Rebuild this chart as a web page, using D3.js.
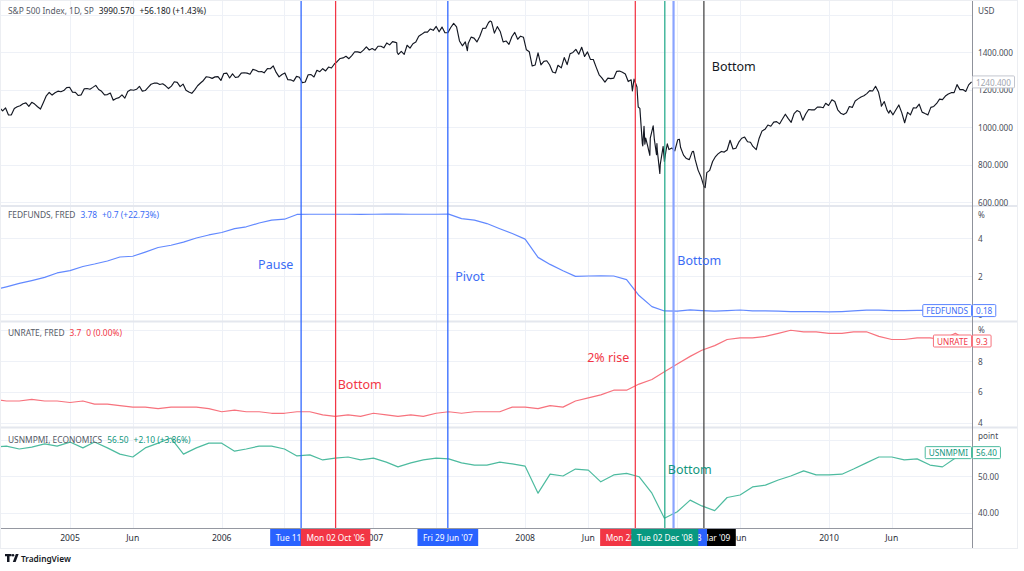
<!DOCTYPE html>
<html><head><meta charset="utf-8">
<script src="https://cdn.jsdelivr.net/npm/d3@7"></script>
<style>
body{margin:0;background:#fff}
svg{display:block}
text{font-family:"Noto Sans","Open Sans",sans-serif}
</style>
</head><body><svg id="c" width="1024" height="571"></svg>
<script>
// ---------------- DATA ----------------
const spx = [
["2004-07-16",1101.39],["2004-07-23",1086.20],["2004-07-30",1101.72],["2004-08-06",1063.97],["2004-08-13",1064.80],["2004-08-20",1098.35],["2004-08-27",1107.77],
["2004-09-03",1113.63],["2004-09-10",1123.92],["2004-09-17",1128.55],["2004-09-24",1110.11],["2004-10-01",1131.50],["2004-10-08",1122.14],["2004-10-15",1108.20],
["2004-10-22",1095.74],["2004-10-29",1130.20],["2004-11-05",1166.17],["2004-11-12",1184.17],["2004-11-19",1170.34],["2004-11-26",1182.65],["2004-12-03",1191.17],
["2004-12-10",1188.00],["2004-12-17",1194.20],["2004-12-24",1210.13],["2004-12-31",1211.92],
["2005-01-07",1186.19],["2005-01-14",1184.52],["2005-01-21",1167.87],["2005-01-28",1171.36],["2005-02-04",1203.03],["2005-02-11",1205.30],["2005-02-18",1201.59],
["2005-02-25",1211.37],["2005-03-04",1222.12],["2005-03-11",1200.08],["2005-03-18",1190.21],["2005-03-25",1171.42],["2005-04-01",1172.92],["2005-04-08",1181.20],
["2005-04-15",1142.62],["2005-04-22",1152.12],["2005-04-29",1156.85],["2005-05-06",1171.35],["2005-05-13",1154.05],["2005-05-20",1189.28],["2005-05-27",1198.78],
["2005-06-03",1196.02],["2005-06-10",1200.93],["2005-06-17",1216.96],["2005-06-24",1191.57],["2005-07-01",1194.44],["2005-07-08",1211.86],["2005-07-15",1227.92],
["2005-07-22",1233.68],["2005-07-29",1234.18],["2005-08-05",1226.42],["2005-08-12",1230.39],["2005-08-19",1219.71],["2005-08-26",1205.10],["2005-09-02",1218.02],
["2005-09-09",1241.48],["2005-09-16",1237.91],["2005-09-23",1215.29],["2005-09-30",1228.81],["2005-10-07",1195.90],["2005-10-14",1186.57],["2005-10-21",1179.59],
["2005-10-28",1198.41],["2005-11-04",1220.14],["2005-11-11",1234.72],["2005-11-18",1248.27],["2005-11-25",1268.25],["2005-12-02",1265.08],["2005-12-09",1259.37],
["2005-12-16",1267.32],["2005-12-23",1268.66],["2005-12-30",1248.29],
["2006-01-06",1285.45],["2006-01-13",1287.61],["2006-01-20",1261.49],["2006-01-27",1283.72],["2006-02-03",1264.03],["2006-02-10",1266.99],["2006-02-17",1287.24],
["2006-02-24",1289.43],["2006-03-03",1287.23],["2006-03-10",1281.42],["2006-03-17",1307.25],["2006-03-24",1302.95],["2006-03-31",1294.83],["2006-04-07",1295.50],
["2006-04-13",1289.12],["2006-04-21",1311.28],["2006-04-28",1310.61],["2006-05-05",1325.76],["2006-05-12",1291.24],["2006-05-19",1267.03],["2006-05-26",1280.16],
["2006-06-02",1288.22],["2006-06-09",1252.30],["2006-06-16",1251.54],["2006-06-23",1244.50],["2006-06-30",1270.20],["2006-07-07",1265.48],["2006-07-14",1236.20],
["2006-07-21",1240.29],["2006-07-28",1278.55],["2006-08-04",1279.36],["2006-08-11",1266.74],["2006-08-18",1302.30],["2006-08-25",1295.09],["2006-09-01",1311.01],
["2006-09-08",1298.92],["2006-09-15",1319.66],["2006-09-22",1314.78],["2006-09-29",1335.85],["2006-10-06",1349.59],["2006-10-13",1365.62],["2006-10-20",1368.60],
["2006-10-27",1377.34],["2006-11-03",1364.30],["2006-11-10",1380.90],["2006-11-17",1401.20],["2006-11-24",1400.95],["2006-12-01",1396.71],["2006-12-08",1409.84],
["2006-12-15",1427.09],["2006-12-22",1410.76],["2006-12-29",1418.30],
["2007-01-05",1409.71],["2007-01-12",1430.73],["2007-01-19",1430.50],["2007-01-26",1422.18],["2007-02-02",1448.39],["2007-02-09",1438.06],["2007-02-16",1455.54],
["2007-02-23",1451.19],["2007-02-26",1449.37],["2007-02-27",1399.04],["2007-03-02",1387.17],["2007-03-09",1402.84],["2007-03-16",1386.95],["2007-03-23",1436.11],
["2007-03-30",1420.86],["2007-04-06",1443.76],["2007-04-13",1452.85],["2007-04-20",1484.35],["2007-04-27",1494.07],["2007-05-04",1505.62],["2007-05-11",1505.85],
["2007-05-18",1522.75],["2007-05-25",1515.73],["2007-06-01",1536.34],["2007-06-08",1507.67],["2007-06-15",1532.91],["2007-06-22",1502.56],["2007-06-29",1503.35],
["2007-07-06",1530.44],["2007-07-13",1552.50],["2007-07-20",1534.10],["2007-07-27",1458.95],["2007-08-03",1433.06],["2007-08-10",1453.64],["2007-08-15",1406.70],
["2007-08-17",1445.94],["2007-08-24",1479.37],["2007-08-31",1473.99],["2007-09-07",1453.55],["2007-09-14",1484.25],["2007-09-21",1525.75],["2007-09-28",1526.75],
["2007-10-05",1557.59],["2007-10-09",1565.15],["2007-10-12",1561.80],["2007-10-19",1500.63],["2007-10-26",1535.28],["2007-11-02",1509.65],["2007-11-09",1453.70],
["2007-11-16",1458.74],["2007-11-23",1440.70],["2007-11-30",1481.14],["2007-12-07",1504.66],["2007-12-14",1467.95],["2007-12-21",1484.46],["2007-12-28",1478.49],
["2008-01-04",1411.63],["2008-01-11",1401.02],["2008-01-18",1325.19],["2008-01-25",1330.61],["2008-02-01",1395.42],["2008-02-08",1331.29],["2008-02-15",1349.99],
["2008-02-22",1353.11],["2008-02-29",1330.63],["2008-03-07",1293.37],["2008-03-14",1288.14],["2008-03-20",1329.51],["2008-03-28",1315.22],["2008-04-04",1370.40],
["2008-04-11",1332.83],["2008-04-18",1390.33],["2008-04-25",1397.84],["2008-05-02",1413.90],["2008-05-09",1388.28],["2008-05-16",1425.35],["2008-05-23",1375.93],
["2008-05-30",1400.38],["2008-06-06",1360.68],["2008-06-13",1360.03],["2008-06-20",1317.93],["2008-06-27",1278.38],["2008-07-03",1262.90],["2008-07-11",1239.49],
["2008-07-18",1260.68],["2008-07-25",1257.76],["2008-08-01",1260.31],["2008-08-08",1296.32],["2008-08-15",1298.20],["2008-08-22",1292.20],["2008-08-29",1282.83],
["2008-09-05",1242.31],["2008-09-12",1251.70],["2008-09-15",1192.70],["2008-09-19",1255.08],["2008-09-26",1213.27],["2008-09-29",1106.39],["2008-10-03",1099.23],
["2008-10-09",909.92],["2008-10-10",899.22],["2008-10-13",1003.35],["2008-10-15",907.84],["2008-10-17",940.55],["2008-10-22",896.78],["2008-10-24",876.77],
["2008-10-27",848.92],["2008-10-28",940.51],["2008-10-31",968.75],["2008-11-04",1005.75],["2008-11-07",930.99],["2008-11-12",852.30],["2008-11-13",911.29],
["2008-11-14",873.29],["2008-11-20",752.44],["2008-11-21",800.03],["2008-11-28",896.24],["2008-12-01",816.21],["2008-12-05",876.07],["2008-12-08",909.70],
["2008-12-12",879.73],["2008-12-19",887.88],["2008-12-26",872.80],
["2009-01-02",931.80],["2009-01-06",934.70],["2009-01-09",890.35],["2009-01-16",850.12],["2009-01-23",831.95],["2009-01-30",825.88],["2009-02-06",868.60],
["2009-02-09",869.89],["2009-02-13",826.84],["2009-02-20",770.05],["2009-02-27",735.09],["2009-03-06",683.38],["2009-03-09",676.53],["2009-03-13",756.55],
["2009-03-20",768.54],["2009-03-27",815.94],["2009-04-03",842.50],["2009-04-09",856.56],["2009-04-17",869.60],["2009-04-24",866.23],["2009-05-01",877.52],
["2009-05-08",929.23],["2009-05-15",882.88],["2009-05-22",887.00],["2009-05-29",919.14],["2009-06-05",940.09],["2009-06-12",946.21],["2009-06-19",921.23],
["2009-06-26",918.90],["2009-07-02",896.42],["2009-07-10",879.13],["2009-07-17",940.38],["2009-07-24",979.26],["2009-07-31",987.48],["2009-08-07",1010.48],
["2009-08-14",1004.09],["2009-08-21",1026.13],["2009-08-28",1028.93],["2009-09-04",1016.40],["2009-09-11",1042.73],["2009-09-18",1068.30],["2009-09-25",1044.38],
["2009-10-02",1025.21],["2009-10-09",1071.49],["2009-10-16",1087.68],["2009-10-23",1079.60],["2009-10-30",1036.19],["2009-11-06",1069.30],["2009-11-13",1093.48],
["2009-11-20",1091.38],["2009-11-27",1091.49],["2009-12-04",1105.98],["2009-12-11",1106.41],["2009-12-18",1102.47],["2009-12-24",1126.48],["2009-12-31",1115.10],
["2010-01-08",1144.98],["2010-01-15",1136.03],["2010-01-22",1091.76],["2010-01-29",1073.87],["2010-02-05",1066.19],["2010-02-12",1075.51],["2010-02-19",1109.17],
["2010-02-26",1104.49],["2010-03-05",1138.70],["2010-03-12",1149.99],["2010-03-19",1159.90],["2010-03-26",1166.59],["2010-04-02",1178.10],["2010-04-09",1194.37],
["2010-04-16",1192.13],["2010-04-23",1217.28],["2010-04-30",1186.69],["2010-05-06",1128.15],["2010-05-07",1110.88],["2010-05-14",1135.68],["2010-05-21",1087.69],
["2010-05-25",1074.03],["2010-05-28",1089.41],["2010-06-04",1064.88],["2010-06-11",1091.60],["2010-06-18",1117.51],["2010-06-25",1076.76],["2010-07-02",1022.58],
["2010-07-09",1077.96],["2010-07-16",1064.88],["2010-07-23",1102.66],["2010-07-30",1101.60],["2010-08-06",1121.64],["2010-08-13",1079.25],["2010-08-20",1071.69],
["2010-08-27",1064.59],["2010-09-03",1104.51],["2010-09-10",1109.55],["2010-09-17",1125.59],["2010-09-24",1148.67],["2010-10-01",1146.24],["2010-10-08",1165.15],
["2010-10-15",1176.19],["2010-10-22",1183.08],["2010-10-29",1183.26],["2010-11-05",1225.85],["2010-11-12",1199.21],["2010-11-19",1199.73],["2010-11-26",1189.40],
["2010-12-03",1224.71],["2010-12-10",1240.40]
];

const months = [
"2004-07","2004-08","2004-09","2004-10","2004-11","2004-12",
"2005-01","2005-02","2005-03","2005-04","2005-05","2005-06","2005-07","2005-08","2005-09","2005-10","2005-11","2005-12",
"2006-01","2006-02","2006-03","2006-04","2006-05","2006-06","2006-07","2006-08","2006-09","2006-10","2006-11","2006-12",
"2007-01","2007-02","2007-03","2007-04","2007-05","2007-06","2007-07","2007-08","2007-09","2007-10","2007-11","2007-12",
"2008-01","2008-02","2008-03","2008-04","2008-05","2008-06","2008-07","2008-08","2008-09","2008-10","2008-11","2008-12",
"2009-01","2009-02","2009-03","2009-04","2009-05","2009-06","2009-07","2009-08","2009-09","2009-10","2009-11","2009-12",
"2010-01","2010-02","2010-03","2010-04","2010-05","2010-06","2010-07","2010-08","2010-09","2010-10","2010-11","2010-12"
];
const fedfunds = [
1.26,1.43,1.61,1.76,1.93,2.16,
2.28,2.50,2.63,2.79,3.00,3.04,3.26,3.50,3.62,3.78,4.00,4.16,
4.29,4.49,4.59,4.79,4.94,4.99,5.24,5.25,5.25,5.25,5.25,5.24,
5.25,5.26,5.26,5.25,5.25,5.25,5.26,5.02,4.94,4.76,4.49,4.24,
3.94,2.98,2.61,2.28,1.98,2.00,2.01,2.00,1.81,0.97,0.39,0.16,
0.15,0.22,0.18,0.15,0.18,0.21,0.16,0.16,0.15,0.12,0.12,0.12,
0.11,0.13,0.16,0.20,0.20,0.18,0.18,0.19,0.19,0.19,0.19,0.18
];
const unrate = [
5.5,5.4,5.4,5.5,5.4,5.4,
5.3,5.4,5.2,5.2,5.1,5.0,5.0,4.9,5.0,5.0,5.0,4.9,
4.7,4.8,4.7,4.7,4.6,4.6,4.7,4.7,4.5,4.4,4.5,4.4,
4.6,4.5,4.4,4.5,4.4,4.6,4.7,4.6,4.7,4.7,4.7,5.0,
5.0,4.9,5.1,5.0,5.4,5.6,5.8,6.1,6.1,6.5,6.8,7.3,
7.8,8.3,8.7,9.0,9.4,9.5,9.5,9.6,9.8,10.0,9.9,9.9,
9.8,9.8,9.9,9.9,9.6,9.4,9.4,9.5,9.5,9.4,9.8,9.3
];
const pmi = [
57.9,58.2,57.4,57.9,58.8,58.2,
59.3,57.7,59.3,57.7,56.0,55.2,57.7,59.0,60.4,56.0,57.7,59.0,
59.0,56.8,57.4,58.2,58.2,57.4,55.5,55.8,54.4,54.9,55.2,54.4,
54.9,53.8,52.5,53.6,54.4,54.9,54.7,53.6,53.0,53.0,53.8,53.3,
52.7,45.3,50.5,50.0,51.9,51.6,48.4,50.3,50.7,49.8,45.3,38.4,
40.2,43.4,41.8,40.5,44.1,44.8,47.0,47.5,48.9,50.0,51.4,50.3,
50.3,50.5,51.9,53.6,55.2,55.2,54.4,54.7,53.0,52.5,54.9,56.4
];

const spxTicks = [600,800,1000,1200,1400,1600];
const fedTicks = [0,2,4];
const unTicks = [4,6,8,10];
const pmiTicks = [40,50,60];

const timeTicks = [
["2005-01-01","2005"],["2005-06-01","Jun"],["2006-01-01","2006"],["2006-06-01","Jun"],["2007-01-01","2007"],["2007-06-01","Jun"],
["2008-01-01","2008"],["2008-06-01","Jun"],["2009-01-01","2009"],["2009-06-01","Jun"],["2010-01-01","2010"],["2010-06-01","Jun"]
];

// vertical event markers (draw order matters for overlapping labels)
const events = [
{date:"2006-07-11", label:"Tue 11 Jul '06", color:"#2962ff", width:1.25},
{date:"2006-10-02", label:"Mon 02 Oct '06", color:"#f23645", width:1.25},
{date:"2007-06-29", label:"Fri 29 Jun '07", color:"#2962ff", width:1.25},
{date:"2008-09-22", label:"Mon 22 Sep '08", color:"#f23645", width:1.25},
{date:"2009-03-06", label:"Fri 06 Mar '09", color:"#000000", lineColor:"#4a4a4a", width:1.3},
{date:"2008-12-23", label:"Tue 23 Dec '08", color:"#2962ff", lineColor:"#8aa4ff", width:2.2},
{date:"2008-12-02", label:"Tue 02 Dec '08", color:"#089981", lineColor:"#22a98a", width:1.25}
];

const notes = [
{pane:"fed", date:"2006-05-11", value:2.58, text:"Pause", color:"#3b6cf5"},
{pane:"fed", date:"2007-08-21", value:1.95, text:"Pivot", color:"#3b6cf5"},
{pane:"fed", date:"2009-02-23", value:2.79, text:"Bottom", color:"#3b6cf5"},
{pane:"un", date:"2006-11-29", value:6.44, text:"Bottom", color:"#f23645"},
{pane:"un", date:"2008-07-19", value:8.2, text:"2% rise", color:"#f23645"},
{pane:"pmi", date:"2009-01-31", value:51.9, text:"Bottom", color:"#12967d"},
{pane:"spx", date:"2009-05-17", value:1325, text:"Bottom", color:"#131722"}
];

// ---------------- DRAW ----------------
const svg = d3.select("#c");
const parse = d3.utcParse("%Y-%m-%d");
const parseM = d3.utcParse("%Y-%m");
const PLOT_R = 972, AX_R = 1018, AX_B = 548, TIME_T = 528;

const x = d3.scaleUtc().domain([parse("2005-01-01"), parse("2010-01-01")]).range([70, 829]);

const panes = {
  spx:{top:0, bottom:205, y:d3.scaleLinear().domain([600,1400]).range([202,52]), ticks:spxTicks, fmt:d3.format(".3f"), unit:"USD"},
  fed:{top:207, bottom:321, y:d3.scaleLinear().domain([0,4]).range([314,238]), ticks:fedTicks, fmt:d3.format("d"), unit:"%"},
  un:{top:322, bottom:427, y:d3.scaleLinear().domain([4,8]).range([422.5,361]), ticks:unTicks, fmt:d3.format("d"), unit:"%"},
  pmi:{top:428, bottom:528, y:d3.scaleLinear().domain([40,50]).range([512.5,476]), ticks:pmiTicks, fmt:d3.format(".2f"), unit:"point"}
};

svg.append("rect").attr("width",1024).attr("height",571).attr("fill","#fff");

// clip paths
const defs = svg.append("defs");
Object.entries(panes).forEach(([k,p])=>{
  defs.append("clipPath").attr("id","clip-"+k).append("rect")
    .attr("x",0).attr("y",p.top).attr("width",PLOT_R).attr("height",p.bottom-p.top);
});

// grid
const gGrid = svg.append("g");
Object.values(panes).forEach(p=>{
  timeTicks.forEach(t=>{
    const xx = Math.round(x(parse(t[0])))+0.5;
    gGrid.append("line").attr("x1",xx).attr("x2",xx)
      .attr("y1",p.top).attr("y2",p.bottom).attr("stroke","#eef1f7").attr("stroke-width",1);
  });
  p.ticks.forEach(v=>{
    const yy = Math.round(p.y(v))+0.5;
    if (yy < p.top+2 || yy > p.bottom-1) return;
    gGrid.append("line").attr("x1",0).attr("x2",PLOT_R).attr("y1",yy).attr("y2",yy)
      .attr("stroke","#eef1f7").attr("stroke-width",1);
  });
});

// pane separators
[206, 321.5, 427.5].forEach(yy=>{
  svg.append("line").attr("x1",0).attr("x2",AX_R).attr("y1",yy).attr("y2",yy)
    .attr("stroke","#e4e7ee").attr("stroke-width",2);
});

// series lines
function drawLine(paneKey, data, color, width){
  const p = panes[paneKey];
  svg.append("path").datum(data)
    .attr("clip-path","url(#clip-"+paneKey+")")
    .attr("fill","none").attr("stroke",color).attr("stroke-width",width)
    .attr("stroke-linejoin","round")
    .attr("d", d3.line().x(d=>x(d[0])).y(d=>p.y(d[1])));
}
drawLine("spx", spx.map(d=>[parse(d[0]), d[1]]), "#131722", 1.15);
drawLine("fed", months.map((m,i)=>[parseM(m), fedfunds[i]]), "#6289ff", 1.2);
drawLine("un", months.map((m,i)=>[parseM(m), unrate[i]]), "#f7727d", 1.2);
drawLine("pmi", months.map((m,i)=>[parseM(m), pmi[i]]), "#4dbb9f", 1.2);

// event lines
events.forEach(e=>{
  const xx = x(parse(e.date));
  svg.append("line").attr("x1",xx).attr("x2",xx).attr("y1",0).attr("y2",TIME_T)
    .attr("stroke",e.lineColor||e.color).attr("stroke-width",e.width);
});

// annotations
notes.forEach(n=>{
  const p = panes[n.pane];
  svg.append("text").attr("x",x(parse(n.date))).attr("y",p.y(n.value))
    .attr("text-anchor","middle").attr("dominant-baseline","central")
    .attr("font-size",12.5).attr("fill",n.color).text(n.text);
});

// time axis
svg.append("rect").attr("x",0).attr("y",TIME_T).attr("width",AX_R).attr("height",AX_B-TIME_T).attr("fill","#fff");
const gT = svg.append("g");
timeTicks.forEach(t=>{
  gT.append("text").attr("x",x(parse(t[0]))).attr("y",538).attr("text-anchor","middle")
    .attr("dominant-baseline","central").attr("font-size",8.6).attr("fill","#2a2e39").text(t[1]);
});
events.forEach(e=>{
  const xx = x(parse(e.date));
  const g = svg.append("g");
  const r = g.append("rect").attr("y",529).attr("height",17).attr("fill",e.color);
  const t = g.append("text").attr("x",xx).attr("y",537.8).attr("text-anchor","middle")
    .attr("dominant-baseline","central").attr("font-size",8.3).attr("fill","#fff").text(e.label);
  const w = t.node().getComputedTextLength()+11;
  r.attr("x",xx-w/2).attr("width",w);
});
svg.append("line").attr("x1",0).attr("x2",AX_R).attr("y1",TIME_T+0.5).attr("y2",TIME_T+0.5).attr("stroke","#9598a1");
svg.append("line").attr("x1",0).attr("x2",AX_R).attr("y1",AX_B+0.5).attr("y2",AX_B+0.5).attr("stroke","#e8eaef");

// right price axis
svg.append("rect").attr("x",PLOT_R).attr("y",0).attr("width",AX_R-PLOT_R).attr("height",AX_B).attr("fill","#fff");
[206, 321.5, 427.5].forEach(yy=>{
  svg.append("line").attr("x1",PLOT_R).attr("x2",AX_R).attr("y1",yy).attr("y2",yy)
    .attr("stroke","#e4e7ee").attr("stroke-width",2);
});
Object.values(panes).forEach(p=>{
  p.ticks.forEach(v=>{
    const yy = p.y(v);
    if (yy < p.top+16 || yy > p.bottom+1) return;
    svg.append("text").attr("x",978).attr("y",yy).attr("dominant-baseline","central")
      .attr("font-size",8.2).attr("fill","#4a4e59").text(p.fmt(v));
  });
  svg.append("text").attr("x",978).attr("y",p.top+(p.top===0?10:7)).attr("dominant-baseline","central")
    .attr("font-size",8.2).attr("fill","#4a4e59").text(p.unit);
});
svg.append("line").attr("x1",PLOT_R+0.5).attr("x2",PLOT_R+0.5).attr("y1",0).attr("y2",AX_B).attr("stroke","#8f929b");
svg.append("line").attr("x1",AX_R-0.5).attr("x2",AX_R-0.5).attr("y1",0).attr("y2",AX_B).attr("stroke","#e8eaef");

// last-value labels
function boxText(xAnchor, anchor, yy, label, stroke, textColor){
  const g = svg.append("g");
  const r = g.append("rect").attr("y",yy-6).attr("height",12).attr("rx",1)
    .attr("fill","#fff").attr("stroke",stroke);
  const t = g.append("text").attr("y",yy+0.3).attr("dominant-baseline","central")
    .attr("font-size",8.2).attr("fill",textColor).text(label);
  const w = t.node().getComputedTextLength()+7;
  if (anchor==="start"){ r.attr("x",xAnchor+0.5).attr("width",w); t.attr("x",xAnchor+4); }
  else { r.attr("x",xAnchor-w-0.5).attr("width",w); t.attr("x",xAnchor-w+3); }
}
function lastLabel(paneKey, name, value, fmt, color, textColor){
  const yy = panes[paneKey].y(value);
  boxText(PLOT_R, "start", yy, fmt(value), color, textColor);
  if (name) boxText(PLOT_R, "end", yy, name, color, textColor);
}
lastLabel("spx", null, spx[spx.length-1][1], d3.format(".3f"), "#c3c6cf", "#a3a6af");
lastLabel("fed", "FEDFUNDS", fedfunds[fedfunds.length-1], d3.format(".2f"), "#5b84ff", "#3b6cf5");
lastLabel("un", "UNRATE", unrate[unrate.length-1], d3.format(".1f"), "#f7727d", "#f23645");
lastLabel("pmi", "USNMPMI", pmi[pmi.length-1], d3.format(".2f"), "#4dbb9f", "#12967d");

// pane headers
function header(top, parts){
  const t = svg.append("text").attr("x",8).attr("y",top).attr("dominant-baseline","central").attr("font-size",8.4);
  parts.forEach((pt,i)=>{
    t.append("tspan").attr("dx", i===0?0:5).attr("fill",pt[1]).text(pt[0]);
  });
}
header(10, [["S&P 500 Index, 1D, SP","#555a66"],["3990.570","#131722"],["+56.180 (+1.43%)","#131722"]]);
header(214, [["FEDFUNDS, FRED","#555a66"],["3.78","#3b6cf5"],["+0.7 (+22.73%)","#3b6cf5"]]);
header(332, [["UNRATE, FRED","#555a66"],["3.7","#f23645"],["0 (0.00%)","#f23645"]]);
header(439, [["USNMPMI, ECONOMICS","#555a66"],["56.50","#12967d"],["+2.10 (+3.86%)","#12967d"]]);

// outer frame
svg.append("rect").attr("x",0.5).attr("y",0.5).attr("width",AX_R-1).attr("height",AX_B).attr("fill","none").attr("stroke","#eceef2");

// TradingView logo
const lg = svg.append("g").attr("fill","#131722");
lg.append("path").attr("d","M5,554 h6.5 v2.3 h-2 v5.7 h-2.5 v-5.7 h-2 z");
lg.append("circle").attr("cx",13).attr("cy",555.3).attr("r",1.3);
lg.append("path").attr("d","M12.8,562 L15.8,554 H18.6 L15.6,562 Z");
svg.append("text").attr("x",21).attr("y",558).attr("dominant-baseline","central")
  .attr("font-size",8.3).attr("font-weight",600).attr("fill","#131722").text("TradingView");
</script>
</body></html>
